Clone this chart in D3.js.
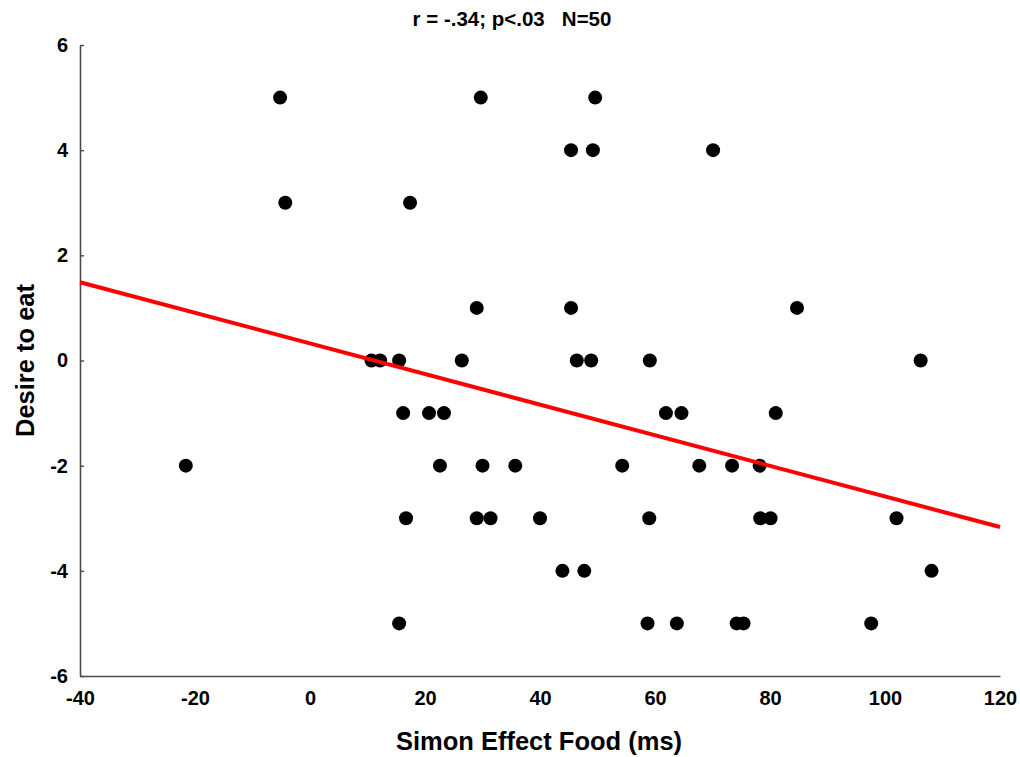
<!DOCTYPE html>
<html>
<head>
<meta charset="utf-8">
<script src="https://cdn.jsdelivr.net/npm/d3@7"></script>
<style>
  html, body { margin: 0; padding: 0; background: #fff; }
  svg { display: block; font-family: "Liberation Sans", Arial, sans-serif; }
</style>
</head>
<body>
<svg id="chart" width="1020" height="757"></svg>
<script>
// Simon effect for food pictures (ms) against rated desire to eat, one point per participant
const simonEffect = [
  -5.2, 29.7, 49.6,
  45.4, 49.2, 70.1,
  -4.3, 17.4,
  29.0, 45.4, 84.7,
  10.7, 12.2, 15.5, 26.4, 46.4, 48.9, 59.1, 106.2,
  16.2, 20.7, 23.3, 61.9, 64.6, 81.0,
  -21.6, 22.6, 30.0, 35.7, 54.3, 67.7, 73.4, 78.2,
  16.7, 29.0, 31.4, 40.0, 59.0, 78.3, 80.1, 102.0,
  43.9, 47.7, 108.1,
  15.5, 58.7, 63.8, 74.2, 75.4, 97.6
];
const desireToEat = [
  5, 5, 5,
  4, 4, 4,
  3, 3,
  1, 1, 1,
  0, 0, 0, 0, 0, 0, 0, 0,
  -1, -1, -1, -1, -1, -1,
  -2, -2, -2, -2, -2, -2, -2, -2,
  -3, -3, -3, -3, -3, -3, -3, -3,
  -4, -4, -4,
  -5, -5, -5, -5, -5, -5
];

// least-squares fit line: desire = intercept + slope * simon
const fitIntercept = 0.325;
const fitSlope = -0.0291;

const xDomain = [-40, 120];
const yDomain = [-6, 6];
const xTicks = [-40, -20, 0, 20, 40, 60, 80, 100, 120];
const yTicks = [-6, -4, -2, 0, 2, 4, 6];

const titleText = "r = -.34; p<.03\u00a0\u00a0\u00a0N=50";
const xTitle = "Simon Effect Food (ms)";
const yTitle = "Desire to eat";

const svg = d3.select("#chart");
const plotLeft = 80, plotRight = 1000, plotTop = 45, plotBottom = 676;

const x = d3.scaleLinear().domain(xDomain).range([plotLeft, plotRight]);
const y = d3.scaleLinear().domain(yDomain).range([plotBottom, plotTop]);

const axisColor = "#4a4a4a";
const plainNumber = d => String(d);   // keeps an ASCII hyphen for negatives

// y axis with short inward ticks
const gy = svg.append("g")
  .attr("transform", `translate(${plotLeft},0)`)
  .call(d3.axisLeft(y).tickValues(yTicks).tickFormat(plainNumber)
    .tickSizeInner(-4).tickSizeOuter(0).tickPadding(12));
gy.select(".domain").attr("stroke", axisColor).attr("stroke-width", 1.6);
gy.selectAll(".tick line").attr("stroke", axisColor).attr("stroke-width", 1.4);
gy.selectAll(".tick text")
  .attr("font-family", "Liberation Sans, Arial, sans-serif")
  .attr("font-size", 20).attr("font-weight", "bold").attr("fill", "#000");

// x axis, no tick marks
const gx = svg.append("g")
  .attr("transform", `translate(0,${plotBottom})`)
  .call(d3.axisBottom(x).tickValues(xTicks).tickFormat(plainNumber)
    .tickSize(0).tickPadding(15));
gx.select(".domain").attr("stroke", axisColor).attr("stroke-width", 1.6);
gx.selectAll(".tick text")
  .attr("font-family", "Liberation Sans, Arial, sans-serif")
  .attr("font-size", 20).attr("font-weight", "bold").attr("fill", "#000");

// data points
const points = d3.zip(simonEffect, desireToEat);
svg.append("g")
  .selectAll("circle")
  .data(points)
  .join("circle")
  .attr("cx", d => x(d[0]))
  .attr("cy", d => y(d[1]))
  .attr("r", 7)
  .attr("fill", "#000");

// regression line across the full x range
const line = d3.line().x(d => x(d)).y(d => y(fitIntercept + fitSlope * d));
svg.append("path")
  .datum(xDomain)
  .attr("d", line)
  .attr("fill", "none")
  .attr("stroke", "#ff0000")
  .attr("stroke-width", 4);

// title and axis titles
svg.append("text")
  .attr("x", 512).attr("y", 26)
  .attr("text-anchor", "middle")
  .attr("font-size", 20.5).attr("font-weight", "bold")
  .text(titleText);

svg.append("text")
  .attr("x", 539).attr("y", 750)
  .attr("text-anchor", "middle")
  .attr("font-size", 25.5).attr("font-weight", "bold")
  .text(xTitle);

svg.append("text")
  .attr("transform", `translate(34,${(plotTop + plotBottom) / 2}) rotate(-90)`)
  .attr("text-anchor", "middle")
  .attr("font-size", 25.5).attr("font-weight", "bold")
  .text(yTitle);
</script>
</body>
</html>
